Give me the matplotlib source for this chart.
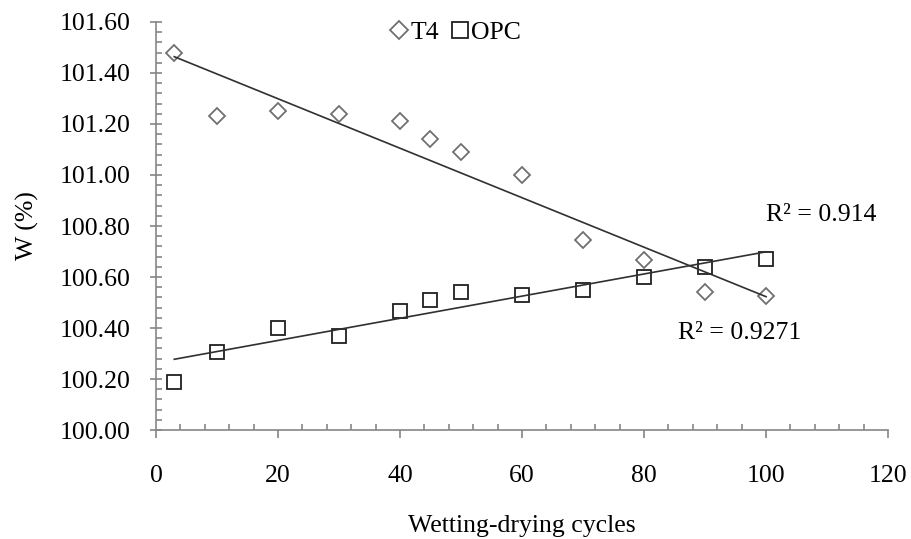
import numpy as np
import matplotlib
matplotlib.use('Agg')
import matplotlib.pyplot as plt
from matplotlib.ticker import MultipleLocator, FormatStrFormatter

plt.rcParams['font.family'] = ['Liberation Serif', 'DejaVu Serif']

# data
cycles = [3, 10, 20, 30, 40, 45, 50, 60, 70, 80, 90, 100]
t4 = [101.48, 101.23, 101.25, 101.24, 101.21, 101.14, 101.09, 101.00, 100.745, 100.665, 100.54, 100.525]
opc = [100.19, 100.305, 100.40, 100.37, 100.465, 100.51, 100.54, 100.53, 100.55, 100.60, 100.64, 100.67]
r2_t4 = 'R² = 0.9271'
r2_opc = 'R² = 0.914'

fs = 18.5
fig = plt.figure(figsize=(9.11, 5.39), dpi=100)
ax = fig.add_axes([0.1712, 0.2022, 0.8036, 0.757])

ax.plot(cycles, t4, 'D', ms=8.5, mfc='white', mec='#707070', mew=1.3, ls='none', label='T4')
ax.plot(cycles, opc, 's', ms=10, mfc='none', mec='#202020', mew=1.3, ls='none', label='OPC')

# linear trendlines
xs = np.array([cycles[0], cycles[-1]])
p1 = np.polyfit(cycles, t4, 1)
p2 = np.polyfit(cycles, opc, 1)
ax.plot(xs, np.polyval(p1, xs), color='#303030', lw=1.2)
ax.plot(xs, np.polyval(p2, xs), color='#303030', lw=1.2)

ax.text(95.7, 100.38, r2_t4, fontsize=fs, ha='center', va='center')
ax.text(109, 100.843, r2_opc, fontsize=fs, ha='center', va='center')

ax.set_xlim(0, 120)
ax.set_ylim(100.0, 101.6)
ax.xaxis.set_major_locator(MultipleLocator(20))
ax.xaxis.set_minor_locator(MultipleLocator(4))
ax.yaxis.set_major_locator(MultipleLocator(0.2))
ax.yaxis.set_minor_locator(MultipleLocator(0.04))
ax.yaxis.set_major_formatter(FormatStrFormatter('%.2f'))

for s in ['top', 'right']:
    ax.spines[s].set_visible(False)
for s in ['left', 'bottom']:
    ax.spines[s].set_color('#868686')
    ax.spines[s].set_linewidth(1.2)
ax.tick_params(which='minor', direction='in', length=4.5, width=1.2, color='#868686')
ax.tick_params(axis='x', which='major', direction='out', length=6, width=1.2, color='#868686',
               labelsize=fs, pad=19)
ax.tick_params(axis='y', which='major', direction='inout', length=8, width=1.2, color='#868686',
               labelsize=fs, pad=14)

ax.set_xlabel('Wetting-drying cycles', fontsize=fs, labelpad=20)
ax.set_ylabel('W (%)', fontsize=fs, labelpad=15)

ax.legend(loc='upper center', bbox_to_anchor=(0.41, 1.058), ncol=2, frameon=False,
          fontsize=fs, markerscale=1.1, handlelength=0.6, handletextpad=0.15, columnspacing=0.5)

fig.savefig('out.png', dpi=100)
